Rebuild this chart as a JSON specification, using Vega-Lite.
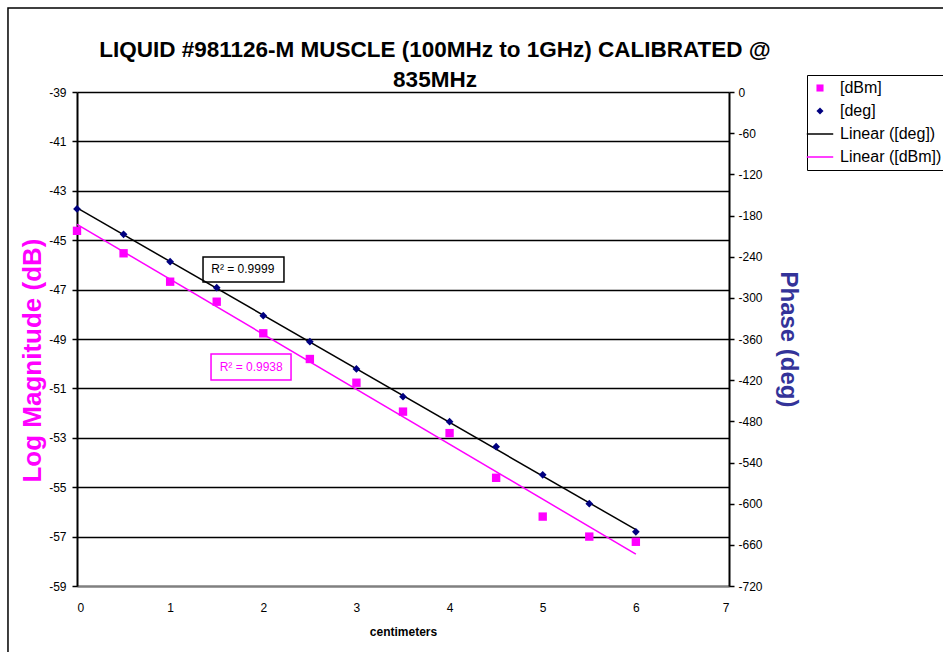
{
  "$schema": "https://vega.github.io/schema/vega-lite/v6.json",
  "width": 652,
  "height": 494,
  "autosize": "none",
  "padding": {"left": 77, "top": 92, "right": 214, "bottom": 66},
  "background": "white",
  "config": {
    "font": "Liberation Sans",
    "view": {"stroke": null},
    "axis": {"labelFont": "Liberation Sans", "labelFontSize": 12, "labelColor": "black", "titleFont": "Liberation Sans"}
  },
  "title": {
    "text": ["LIQUID #981126-M MUSCLE (100MHz to 1GHz) CALIBRATED @", "835MHz"],
    "font": "Liberation Sans",
    "fontSize": 22.5,
    "fontWeight": "bold",
    "color": "black",
    "anchor": "middle",
    "dx": 32,
    "dy": 88,
    "lineHeight": 30,
    "offset": 4
  },
  "datasets": {
    "dbm": [
      {"cm": 0, "dbm": -44.62},
      {"cm": 0.5, "dbm": -45.53},
      {"cm": 1, "dbm": -46.68},
      {"cm": 1.5, "dbm": -47.49},
      {"cm": 2, "dbm": -48.77},
      {"cm": 2.5, "dbm": -49.81},
      {"cm": 3, "dbm": -50.77},
      {"cm": 3.5, "dbm": -51.94},
      {"cm": 4, "dbm": -52.81},
      {"cm": 4.5, "dbm": -54.62},
      {"cm": 5, "dbm": -56.19},
      {"cm": 5.5, "dbm": -57.0},
      {"cm": 6, "dbm": -57.21}
    ],
    "deg": [
      {"cm": 0, "deg": -170.5},
      {"cm": 0.5, "deg": -207.4},
      {"cm": 1, "deg": -247.3},
      {"cm": 1.5, "deg": -285.2},
      {"cm": 2, "deg": -326},
      {"cm": 2.5, "deg": -364},
      {"cm": 3, "deg": -403.7},
      {"cm": 3.5, "deg": -444},
      {"cm": 4, "deg": -480.5},
      {"cm": 4.5, "deg": -517},
      {"cm": 5, "deg": -558},
      {"cm": 5.5, "deg": -600},
      {"cm": 6, "deg": -641}
    ],
    "notes": [
      {"label": "R² = 0.9999", "cx": 1.78, "cy": -46.17, "x1": 1.353, "x2": 2.222, "y1": -45.68, "y2": -46.69, "series": "deg"},
      {"label": "R² = 0.9938", "cx": 1.87, "cy": -50.13, "x1": 1.439, "x2": 2.298, "y1": -49.61, "y2": -50.66, "series": "dbm"}
    ],
    "frame": [{"x1": -0.741, "x2": 10, "y1": -35.6, "y2": -75}]
  },
  "resolve": {"scale": {"y": "independent"}},
  "layer": [
    {
      "data": {"name": "frame"},
      "mark": {"type": "rect", "fillOpacity": 0, "stroke": "black", "strokeWidth": 1.5, "clip": false},
      "encoding": {
        "x": {"field": "x1", "type": "quantitative", "scale": {"domain": [0, 7], "nice": false}, "axis": {"orient": "bottom", "values": [0,1,2,3,4,5,6,7], "format": "d", "grid": false, "ticks": false, "domainColor": "#808080", "domainWidth": 2, "labelPadding": 16, "title": "centimeters", "titleFontSize": 12, "titleFontWeight": "bold", "titlePadding": 13, "titleColor": "black"}},
        "x2": {"field": "x2"},
        "y": {"field": "y1", "type": "quantitative", "scale": {"domain": [-59, -39], "nice": false, "zero": false}, "axis": {"orient": "left", "values": [-59,-57,-55,-53,-51,-49,-47,-45,-43,-41,-39], "labelExpr": "replace(datum.label, '−', '-')", "grid": true, "gridColor": "black", "gridWidth": 1.6, "gridOpacity": 1, "domainColor": "black", "domainWidth": 2, "tickColor": "black", "tickSize": 5, "tickWidth": 1.5, "labelPadding": 6, "title": "Log Magnitude (dB)", "titleColor": "#FF00FF", "titleFontSize": 26, "titleFontWeight": "bold", "titlePadding": 3, "titleY": 268}},
        "y2": {"field": "y2"}
      }
    },
    {
      "data": {"name": "dbm"},
      "transform": [{"regression": "dbm", "on": "cm", "extent": [0, 6]}],
      "mark": {"type": "line", "strokeWidth": 1.5},
      "encoding": {
        "x": {"field": "cm", "type": "quantitative"},
        "y": {"field": "dbm", "type": "quantitative", "scale": {"domain": [-59, -39], "nice": false, "zero": false}, "axis": null},
        "color": {"datum": "Linear ([dBm])", "type": "nominal"}
      }
    },
    {
      "data": {"name": "dbm"},
      "mark": {"type": "point", "shape": "square", "filled": true, "opacity": 1, "size": 70},
      "encoding": {
        "x": {"field": "cm", "type": "quantitative"},
        "y": {"field": "dbm", "type": "quantitative", "scale": {"domain": [-59, -39], "nice": false, "zero": false}, "axis": null},
        "color": {"datum": "[dBm]", "type": "nominal", "scale": {"domain": ["[dBm]", "[deg]", "Linear ([deg])", "Linear ([dBm])"], "range": ["#FF00FF", "#000080", "#000000", "#FF00FF"]},
          "legend": {"title": null, "orient": "none", "legendX": 730, "legendY": -17, "strokeColor": "black", "fillColor": "white", "padding": 5, "labelFontSize": 16, "labelFont": "Liberation Sans", "labelColor": "black", "rowPadding": 7, "symbolOpacity": 1, "labelOffset": 12, "symbolType": "square", "symbolSize": 700,
            "encode": {"symbols": {"update": {
              "shape": {"signal": "datum.label === '[dBm]' ? 'square' : (datum.label === '[deg]' ? 'diamond' : 'stroke')"},
              "size": {"signal": "(datum.label === '[dBm]' || datum.label === '[deg]') ? 50 : 700"},
              "stroke": {"signal": "datum.label === '[deg]' ? '#000080' : (datum.label === 'Linear ([deg])' ? '#000000' : '#FF00FF')"},
              "strokeWidth": {"signal": "(datum.label === '[dBm]' || datum.label === '[deg]') ? 0 : 1.5"}
            }}}}
        }
      }
    },
    {
      "data": {"name": "notes"},
      "mark": {"type": "rect", "fill": "white", "strokeWidth": 1.5},
      "encoding": {
        "x": {"field": "x1", "type": "quantitative"},
        "x2": {"field": "x2"},
        "y": {"field": "y1", "type": "quantitative", "scale": {"domain": [-59, -39], "nice": false, "zero": false}, "axis": null},
        "y2": {"field": "y2"},
        "stroke": {"field": "series", "type": "nominal", "scale": {"domain": ["deg", "dbm"], "range": ["black", "#FF00FF"]}, "legend": null}
      }
    },
    {
      "data": {"name": "notes"},
      "mark": {"type": "text", "fontSize": 12, "font": "Liberation Sans"},
      "encoding": {
        "x": {"field": "cx", "type": "quantitative"},
        "y": {"field": "cy", "type": "quantitative", "scale": {"domain": [-59, -39], "nice": false, "zero": false}, "axis": null},
        "text": {"field": "label"},
        "fill": {"field": "series", "type": "nominal", "scale": {"domain": ["deg", "dbm"], "range": ["black", "#FF00FF"]}, "legend": null}
      }
    },
    {
      "data": {"name": "deg"},
      "transform": [{"regression": "deg", "on": "cm", "extent": [0, 6]}],
      "mark": {"type": "line", "strokeWidth": 1.5},
      "encoding": {
        "x": {"field": "cm", "type": "quantitative"},
        "y": {"field": "deg", "type": "quantitative", "scale": {"domain": [-720, 0], "nice": false, "zero": false}, "axis": {"orient": "right", "values": [0,-60,-120,-180,-240,-300,-360,-420,-480,-540,-600,-660,-720], "labelExpr": "replace(datum.label, '−', '-')", "grid": false, "domainColor": "black", "domainWidth": 2, "tickColor": "black", "tickSize": 5, "tickWidth": 1.5, "labelPadding": 4, "title": "Phase (deg)", "titleColor": "#333399", "titleFontSize": 24, "titleFontWeight": "bold", "titlePadding": 13}},
        "color": {"datum": "Linear ([deg])", "type": "nominal"}
      }
    },
    {
      "data": {"name": "deg"},
      "mark": {"type": "point", "shape": "diamond", "filled": true, "opacity": 1, "size": 60},
      "encoding": {
        "x": {"field": "cm", "type": "quantitative"},
        "y": {"field": "deg", "type": "quantitative", "scale": {"domain": [-720, 0], "nice": false, "zero": false}, "axis": null},
        "color": {"datum": "[deg]", "type": "nominal"}
      }
    }
  ]
}
